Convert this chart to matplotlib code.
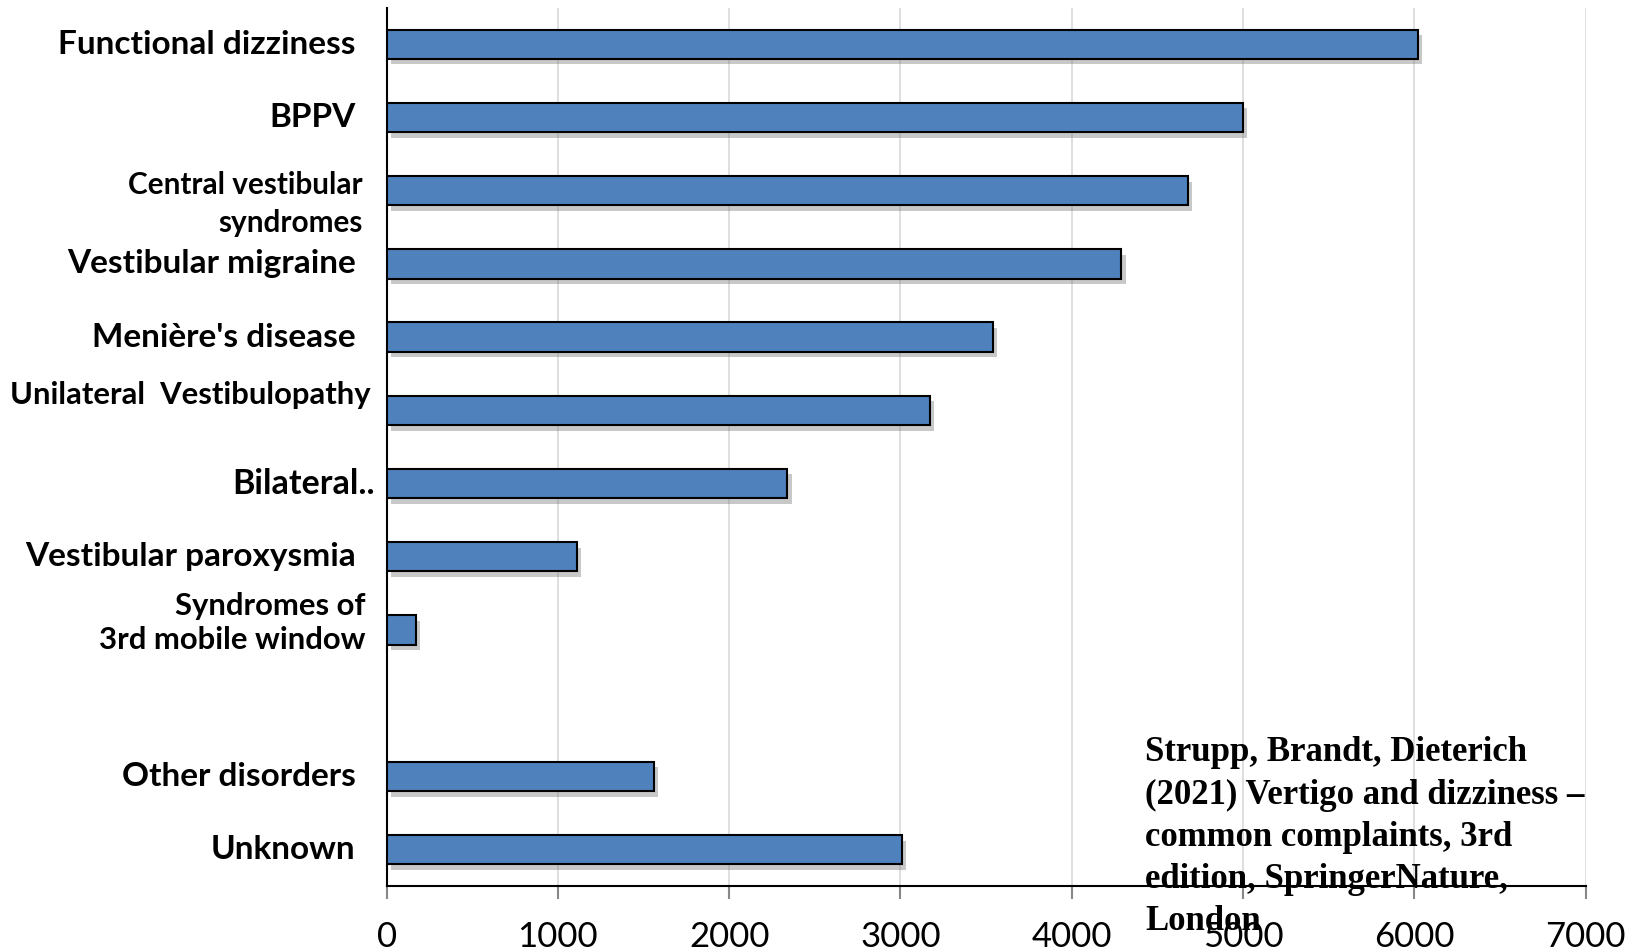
import numpy as np
import matplotlib
matplotlib.use('Agg')
import matplotlib.pyplot as plt
import matplotlib.patheffects as pe

plt.rcParams['font.family'] = ['Lato', 'DejaVu Sans']

# data (cases per diagnosis); '' marks the blank slot
categories = ['Functional dizziness', 'BPPV', 'Central vestibular\nsyndromes',
              'Vestibular migraine', "Menière's disease", 'Unilateral  Vestibulopathy',
              'Bilateral..', 'Vestibular paroxysmia', 'Syndromes of\n3rd mobile window',
              '', 'Other disorders', 'Unknown']
cases = [6020, 5000, 4680, 4290, 3540, 3170, 2340, 1110, 170, np.nan, 1560, 3010]
xticks = [0, 1000, 2000, 3000, 4000, 5000, 6000, 7000]
citation = ('Strupp, Brandt, Dieterich\n(2021) Vertigo and dizziness –\n'
            'common complaints, 3rd\nedition, SpringerNature,\nLondon')

# label placement tweaks: (gap from axis px, vertical shift px, font size, line spacing)
lab_style = {2: (24, -13, 21.4, 1.45), 5: (16, 15, 22.3, 1.25),
             6: (12, 0, 24.5, 1.25), 8: (21, 7, 22.3, 1.25)}

fig = plt.figure(figsize=(16.38, 9.51), dpi=100)
ax = fig.add_axes([0.236, 0.068, 0.732, 0.924])

ypos = np.arange(len(categories))
cases = np.array(cases, dtype=float)
ok = ~np.isnan(cases)
bars = ax.barh(ypos[ok], cases[ok], height=0.4, color='#4f81bd', edgecolor='black',
               lw=1.5, zorder=3)
for b in bars:
    b.set_path_effects([pe.SimplePatchShadow(offset=(3, -4), shadow_rgbFace='#777777', alpha=0.4),
                        pe.Normal()])

ax.set_ylim(len(categories) - 0.5, -0.5)
ax.set_xlim(0, 7000)
ax.set_yticks([])
ax.set_xticks(xticks)
ax.tick_params(axis='x', length=9, width=1.5, color='#888888', pad=16, labelsize=25)
ax.xaxis.grid(True, color='#d9d9d9', lw=1.2)
ax.set_axisbelow(True)
for s in ['top', 'right']:
    ax.spines[s].set_visible(False)
ax.spines['left'].set_linewidth(1.5)
ax.spines['bottom'].set_linewidth(1.5)

for i, lab in enumerate(categories):
    if not lab:
        continue
    dx, dy, fs, ls = lab_style.get(i, (31, 0, 24, 1.25))
    ax.annotate(lab, xy=(0, i), xycoords=('axes fraction', 'data'), xytext=(-dx, dy),
                textcoords='offset pixels', ha='right', va='center', fontsize=fs,
                fontweight='bold', linespacing=ls, annotation_clip=False)

fig.text(0.699, 0.2256, citation, ha='left', va='top', fontsize=25, fontweight='bold',
         family='Liberation Serif', linespacing=1.36, zorder=10)

fig.savefig('out.png', dpi=100, facecolor='white')
